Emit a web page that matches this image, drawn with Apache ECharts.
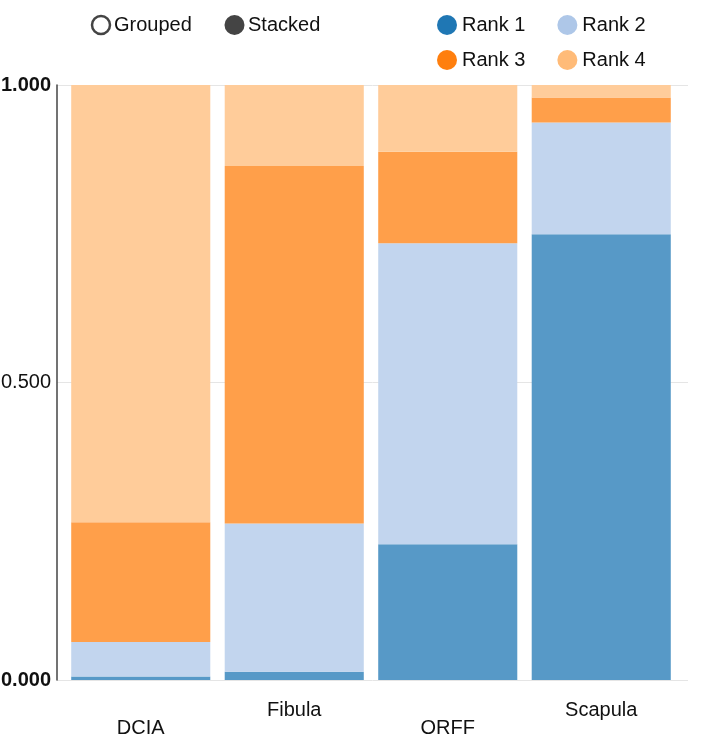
<!DOCTYPE html>
<html>
<head>
<meta charset="utf-8">
<script src="https://cdn.jsdelivr.net/npm/echarts@6/dist/echarts.min.js"></script>
<style>
  html, body { margin: 0; padding: 0; background: #fff; }
  #chart { width: 720px; height: 736px; }
</style>
</head>
<body>
<div id="chart"></div>
<script>
var categories = ['DCIA', 'Fibula', 'ORFF', 'Scapula'];
var rank1 = [0.006, 0.014, 0.228, 0.749];
var rank2 = [0.058, 0.249, 0.506, 0.188];
var rank3 = [0.201, 0.601, 0.154, 0.042];
var rank4 = [0.735, 0.136, 0.112, 0.021];
var yTicks = [0, 0.5, 1];

var font = 'Liberation Sans, Arial, sans-serif';
var textColor = '#111';
var fs = 20;

var myChart = echarts.init(document.getElementById('chart'));

function bar(name, data, color) {
    return {
        name: name,
        type: 'bar',
        stack: 'total',
        xAxisIndex: 1,
        yAxisIndex: 1,
        barCategoryGap: '9.4%',
        itemStyle: { color: color },
        emphasis: { disabled: true },
        data: data
    };
}

var legendText = { fontSize: fs, fontFamily: font, color: textColor };

var option = {
    animation: false,
    graphic: [
        { type: 'circle', shape: { cx: 101, cy: 25, r: 9 },
          style: { fill: '#fff', stroke: '#444', lineWidth: 2.5 } },
        { type: 'text', x: 114, y: 25,
          style: { text: 'Grouped', fontSize: fs, fontFamily: font, fill: textColor, verticalAlign: 'middle' } },
        { type: 'circle', shape: { cx: 234.5, cy: 25, r: 10 },
          style: { fill: '#444' } },
        { type: 'text', x: 248, y: 25,
          style: { text: 'Stacked', fontSize: fs, fontFamily: font, fill: textColor, verticalAlign: 'middle' } }
    ],
    legend: [
        {
            left: 437, top: 15, padding: 0, itemWidth: 20, itemHeight: 20, itemGap: 32,
            icon: 'circle', selectedMode: false, textStyle: legendText,
            data: [
                { name: 'Rank 1', itemStyle: { color: '#1f77b4' } },
                { name: 'Rank 2', itemStyle: { color: '#aec7e8' } }
            ]
        },
        {
            left: 437, top: 50, padding: 0, itemWidth: 20, itemHeight: 20, itemGap: 32,
            icon: 'circle', selectedMode: false, textStyle: legendText,
            data: [
                { name: 'Rank 3', itemStyle: { color: '#ff7f0e' } },
                { name: 'Rank 4', itemStyle: { color: '#ffbb78' } }
            ]
        }
    ],
    grid: [
        // axis + gridlines
        { left: 57, right: 32, top: 85, bottom: 56, outerBoundsMode: 'none', containLabel: false },
        // bars
        { left: 64, right: 42, top: 85, bottom: 56, outerBoundsMode: 'none', containLabel: false }
    ],
    xAxis: [
        { gridIndex: 0, type: 'value', show: false, min: 0, max: 1 },
        {
            gridIndex: 1,
            type: 'category',
            data: categories,
            axisLine: { show: false },
            axisTick: { show: false },
            axisLabel: {
                margin: 21,
                fontSize: fs,
                lineHeight: 18,
                fontFamily: font,
                color: textColor,
                interval: 0,
                formatter: function (v, i) {
                    return i % 2 === 0 ? '\n' + v : v;
                }
            }
        }
    ],
    yAxis: [
        {
            gridIndex: 0,
            type: 'value',
            min: yTicks[0],
            max: yTicks[yTicks.length - 1],
            interval: 0.5,
            axisLine: { show: true, lineStyle: { color: '#444', width: 1.5 } },
            axisTick: { show: false },
            splitLine: { lineStyle: { color: '#e5e5e5', width: 1 } },
            axisLabel: {
                margin: 6,
                fontSize: fs,
                fontFamily: font,
                color: textColor,
                formatter: function (v) {
                    var s = v.toFixed(3);
                    return (v === yTicks[0] || v === yTicks[yTicks.length - 1]) ? '{b|' + s + '}' : s;
                },
                rich: {
                    b: { fontSize: fs, fontFamily: font, fontWeight: 'bold', color: textColor }
                }
            }
        },
        { gridIndex: 1, type: 'value', show: false, min: 0, max: 1 }
    ],
    series: [
        bar('Rank 1', rank1, '#5799c7'),
        bar('Rank 2', rank2, '#c2d5ee'),
        bar('Rank 3', rank3, '#ff9f4a'),
        bar('Rank 4', rank4, '#ffcc9a')
    ]
};

myChart.setOption(option);
</script>
</body>
</html>
